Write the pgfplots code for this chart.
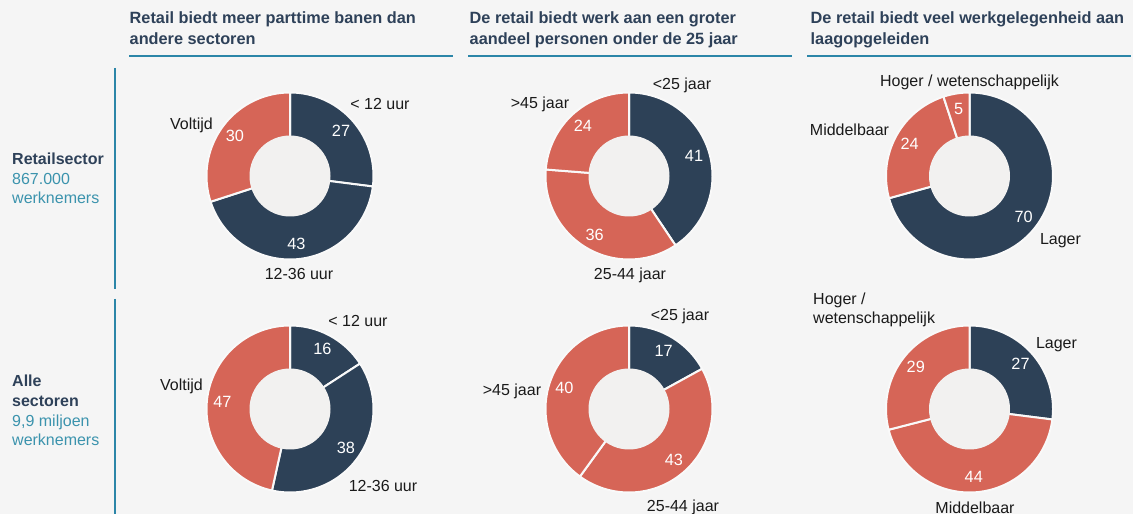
\documentclass[border=0pt]{standalone}
\usepackage{fontspec}
\setmainfont{Liberation Sans}
\usepackage{pgfplots}
\pgfplotsset{compat=1.18}

\definecolor{bg}{HTML}{F5F5F5}
\definecolor{navy}{HTML}{2D4157}
\definecolor{coral}{HTML}{D66557}
\definecolor{hole}{HTML}{F2F1F0}
\definecolor{sep}{HTML}{F9F9F9}
\definecolor{head}{HTML}{2E4159}
\definecolor{teal}{HTML}{3B93AD}
\definecolor{rule}{HTML}{2C86A8}
\definecolor{lab}{HTML}{1A1A1A}

% one donut: list of value/colour, clockwise from 12 o'clock
\newcommand{\drawdonut}[1]{%
  \gdef\tot{0}%
  \foreach \val/\col in {#1}{\pgfmathparse{\tot+\val}\xdef\tot{\pgfmathresult}}%
  \gdef\cum{0}%
  \foreach \val/\col in {#1}{%
    \pgfmathsetmacro{\aS}{90-(360/\tot)*\cum}%
    \pgfmathsetmacro{\aE}{90-(360/\tot)*(\cum+\val)}%
    \pgfmathsetmacro{\aM}{(\aS+\aE)/2}%
    \pgfmathsetmacro{\lx}{68*cos(\aM)}%
    \pgfmathsetmacro{\ly}{68*sin(\aM)}%
    \edef\seg{%
      \noexpand\addplot[fill=\col, draw=sep, line width=2pt, line join=round,
        domain=\aE:\aS, samples=90, variable=\noexpand\q]
        ({83.5*cos(\noexpand\q)},{83.5*sin(\noexpand\q)}) -- (axis cs:0,0) -- cycle;%
      \noexpand\node[val] at (axis cs:\lx,\ly) {\val};%
    }\seg
    \pgfmathparse{\cum+\val}\xdef\cum{\pgfmathresult}%
  }%
}

\pgfplotsset{
  donut/.style={hide axis, clip=false, scale only axis, anchor=center,
    width=200pt, height=200pt, xmin=-100, xmax=100, ymin=-100, ymax=100},
}

\begin{document}
\begin{tikzpicture}[x=1pt, y=1pt,
  head/.style={text=head, font=\fontsize{16.3}{20}\selectfont\bfseries, inner sep=0, anchor=base west},
  rowb/.style={text=head, font=\fontsize{16}{20}\selectfont\bfseries, inner sep=0, anchor=base west},
  rowt/.style={text=teal, font=\fontsize{16}{20}\selectfont, inner sep=0, anchor=base west},
  val/.style={text=white, font=\fontsize{16.3}{18}\selectfont, inner sep=0},
  lbl/.style={text=lab, font=\fontsize{16}{18}\selectfont, inner sep=0, anchor=base},
]
\fill[bg] (0,0) rectangle (1133,514);
\path[use as bounding box] (0,0) rectangle (1133,514);

% column headers
\node[head] at (129.5,490) {Retail biedt meer parttime banen dan};
\node[head] at (129.5,469.7) {andere sectoren};
\node[head] at (469.5,490) {De retail biedt werk aan een groter};
\node[head] at (469.5,469.7) {aandeel personen onder de 25 jaar};
\node[head] at (810.5,490) {De retail biedt veel werkgelegenheid aan};
\node[head] at (810.5,469.7) {laagopgeleiden};
\draw[rule, line width=1.3pt] (129,458) -- (453,458);
\draw[rule, line width=1.3pt] (468,458) -- (792,458);
\draw[rule, line width=1.3pt] (807,458) -- (1131,458);

% row labels
\node[rowb] at (12,349.7) {Retailsector};
\node[rowt] at (12,329.7) {867.000};
\node[rowt] at (12,310.7) {werknemers};
\node[rowb] at (12,127.3) {Alle};
\node[rowb] at (12,107.3) {sectoren};
\node[rowt] at (12,87.3) {9,9 miljoen};
\node[rowt] at (12,68) {werknemers};
\draw[rule, line width=1.3pt] (115,446) -- (115,225);
\draw[rule, line width=1.3pt] (115,215) -- (115,0);

% Retailsector
\begin{axis}[donut, at={(290pt,338pt)}]
\drawdonut{27/navy,43/navy,30/coral}
\fill[hole] (axis cs:0,0) circle[radius=40.5];
\node[lbl] at (axis cs:90,66.3) {< 12 uur};
\node[lbl] at (axis cs:9,-103.7) {12-36 uur};
\node[lbl] at (axis cs:-98.5,46.3) {Voltijd};
\end{axis}

\begin{axis}[donut, at={(629pt,338pt)}]
\drawdonut{41/navy,36/coral,24/coral}
\fill[hole] (axis cs:0,0) circle[radius=40.5];
\node[lbl] at (axis cs:53,86.3) {<25 jaar};
\node[lbl] at (axis cs:1,-103.7) {25-44 jaar};
\node[lbl] at (axis cs:-89,67.3) {>45 jaar};
\end{axis}

\begin{axis}[donut, at={(969.5pt,338pt)}]
\drawdonut{70/navy,24/coral,5/coral}
\fill[hole] (axis cs:0,0) circle[radius=40.5];
\node[lbl] at (axis cs:0,89.6) {Hoger / wetenschappelijk};
\node[lbl] at (axis cs:-120,40.3) {Middelbaar};
\node[lbl] at (axis cs:91,-68.7) {Lager};
\end{axis}

% Alle sectoren
\begin{axis}[donut, at={(290pt,105pt)}]
\drawdonut{16/navy,38/navy,47/coral}
\fill[hole] (axis cs:0,0) circle[radius=40.5];
\node[lbl] at (axis cs:68,82.3) {< 12 uur};
\node[lbl] at (axis cs:93,-82.2) {12-36 uur};
\node[lbl] at (axis cs:-108.5,18.8) {Voltijd};
\end{axis}

\begin{axis}[donut, at={(629pt,105pt)}]
\drawdonut{17/navy,43/coral,40/coral}
\fill[hole] (axis cs:0,0) circle[radius=40.5];
\node[lbl] at (axis cs:51,88.3) {<25 jaar};
\node[lbl] at (axis cs:-117,13.3) {>45 jaar};
\node[lbl] at (axis cs:54,-102.7) {25-44 jaar};
\end{axis}

\begin{axis}[donut, at={(969.5pt,105pt)}]
\drawdonut{27/navy,44/coral,29/coral}
\fill[hole] (axis cs:0,0) circle[radius=40.5];
\node[lbl] at (axis cs:87,60.8) {Lager};
\node[lbl] at (axis cs:5.5,-104.2) {Middelbaar};
\node[lbl, anchor=base west] at (axis cs:-156.5,104.8) {Hoger /};
\node[lbl, anchor=base west] at (axis cs:-156.5,85.8) {wetenschappelijk};
\end{axis}
\end{tikzpicture}
\end{document}
